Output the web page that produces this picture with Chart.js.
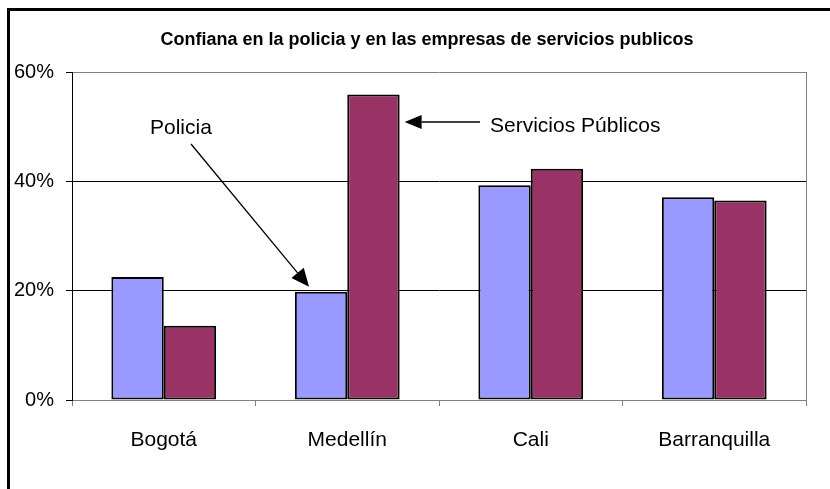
<!DOCTYPE html>
<html>
<head>
<meta charset="utf-8">
<script src="https://cdn.jsdelivr.net/npm/chart.js@4/dist/chart.umd.min.js"></script>
<style>
  html, body { margin: 0; padding: 0; background: #fff; }
  #wrap { width: 830px; height: 489px; position: relative; }
</style>
</head>
<body>
<div id="wrap"><canvas id="confianzaChart"></canvas></div>
<script>
'use strict';

// ── Data ─────────────────────────────────────────────
const categories = ['Bogotá', 'Medellín', 'Cali', 'Barranquilla'];
const policia    = [22.5, 19.8, 39.3, 37.1];
const servicios  = [13.6, 55.9, 42.3, 36.5];
const yTicks     = [0, 20, 40, 60];

const titleText = 'Confiana en la policia y en las empresas de servicios publicos';
const FONT = '"Liberation Sans", Arial, sans-serif';

function arrow(ctx, x1, y1, x2, y2, head, half) {
    const ang = Math.atan2(y2 - y1, x2 - x1);
    const bx = x2 - head * Math.cos(ang);
    const by = y2 - head * Math.sin(ang);
    ctx.beginPath();
    ctx.moveTo(x1, y1);
    ctx.lineTo(bx, by);
    ctx.stroke();
    ctx.beginPath();
    ctx.moveTo(x2, y2);
    ctx.lineTo(bx + half * Math.sin(ang), by - half * Math.cos(ang));
    ctx.lineTo(bx - half * Math.sin(ang), by + half * Math.cos(ang));
    ctx.closePath();
    ctx.fill();
}

// ── Frame, title and callouts ────────────────────────
const decorations = {
    id: 'decorations',
    afterDraw(chart) {
        const { ctx, chartArea } = chart;
        ctx.save();

        // outer frame (left + top only visible)
        ctx.strokeStyle = '#000';
        ctx.lineWidth = 3;
        ctx.beginPath();
        ctx.moveTo(8.5, 489);
        ctx.lineTo(8.5, 9.5);
        ctx.lineTo(830, 9.5);
        ctx.stroke();

        // plot area right edge
        ctx.strokeStyle = '#808080';
        ctx.lineWidth = 1;
        ctx.beginPath();
        ctx.moveTo(Math.round(chartArea.right) + 0.5, chartArea.top);
        ctx.lineTo(Math.round(chartArea.right) + 0.5, chartArea.bottom + 6);
        ctx.stroke();

        // title
        ctx.fillStyle = '#000';
        ctx.font = 'bold 18px ' + FONT;
        ctx.textAlign = 'center';
        ctx.textBaseline = 'middle';
        ctx.fillText(titleText, 427, 40);

        // callouts
        const blue = chart.getDatasetMeta(0).data[1];
        const red  = chart.getDatasetMeta(1).data[1];
        ctx.font = '21px ' + FONT;
        ctx.textAlign = 'left';
        ctx.fillText('Policia', 150, 128);
        ctx.fillText('Servicios Públicos', 490, 126);

        ctx.strokeStyle = '#000';
        ctx.fillStyle = '#000';
        ctx.lineWidth = 1.3;
        arrow(ctx, 191, 144, blue.x - 12, blue.y - 5, 18, 8);
        arrow(ctx, 480, 122, red.x + red.width / 2 + 5, 122, 17, 7);

        ctx.restore();
    }
};

new Chart(document.getElementById('confianzaChart'), {
    type: 'bar',
    data: {
        labels: categories,
        datasets: [
            {
                label: 'Policia',
                data: policia,
                backgroundColor: '#9999FF',
                borderColor: '#000',
                borderWidth: 2,
                borderSkipped: false,
            },
            {
                label: 'Servicios Públicos',
                data: servicios,
                backgroundColor: '#993366',
                borderColor: '#000',
                borderWidth: 2,
                borderSkipped: false,
            }
        ]
    },
    options: {
        responsive: true,
        maintainAspectRatio: false,
        animation: false,
        layout: { padding: { left: 10, right: 24, top: 72, bottom: 0 } },
        datasets: { bar: { categoryPercentage: 0.571, barPercentage: 1.0 } },
        scales: {
            x: {
                afterFit: (scale) => { scale.height = 89; },
                grid: {
                    offset: true,
                    drawOnChartArea: false,
                    tickLength: 6,
                    color: '#808080',
                },
                border: { display: true, color: '#808080', width: 1 },
                ticks: {
                    color: '#000',
                    padding: 22,
                    font: { family: FONT, size: 21 },
                    maxRotation: 0,
                }
            },
            y: {
                min: 0,
                max: 60,
                afterFit: (scale) => { scale.width = 62; },
                afterBuildTicks: (scale) => {
                    scale.ticks = yTicks.map(v => ({ value: v }));
                },
                grid: {
                    tickLength: 6,
                    tickColor: '#000',
                    color: (c) => (c.tick && (c.tick.value === 60 || c.tick.value === 0)) ? '#808080' : '#000',
                },
                border: { display: true, color: '#000', width: 1 },
                ticks: {
                    color: '#000',
                    padding: 12,
                    font: { family: FONT, size: 20 },
                    callback: (val) => val + '%'
                }
            }
        },
        plugins: {
            legend: { display: false },
            title: { display: false },
            tooltip: { enabled: false }
        }
    },
    plugins: [decorations]
});
</script>
</body>
</html>
